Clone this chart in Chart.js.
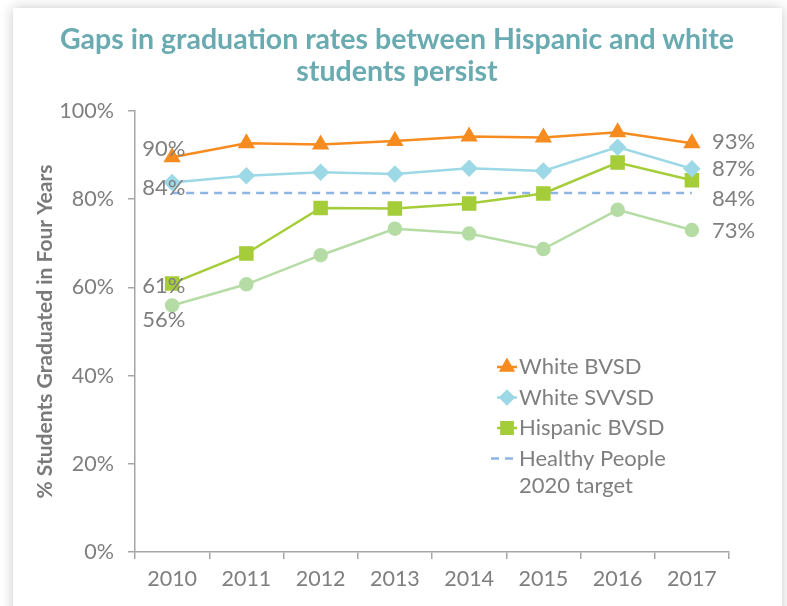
<!DOCTYPE html>
<html>
<head>
<meta charset="utf-8">
<script src="https://cdn.jsdelivr.net/npm/chart.js@4"></script>
<style>
  html, body { margin: 0; padding: 0; width: 787px; height: 606px; overflow: hidden; background: #fff; }
  .card { position: absolute; left: 13px; top: 8px; width: 769px; height: 640px; background: #fff; box-shadow: 0 0 12px rgba(0,0,0,0.22); }
  canvas { position: absolute; left: 0; top: 0; }
  .title { position: absolute; left: 0; top: 22px; width: 794px; margin: 0; text-align: center;
    font: bold 28.5px/32px Lato, "Open Sans", sans-serif; color: #69abb1; z-index: 2; }
</style>
</head>
<body>
<div class="card"></div>
<h1 class="title">Gaps in graduation rates between Hispanic and white<br>students persist</h1>
<canvas id="gradChart" width="787" height="606"></canvas>
<script>
const years = ['2010', '2011', '2012', '2013', '2014', '2015', '2016', '2017'];
const whiteBVSD = [89.5, 92.7, 92.4, 93.2, 94.2, 94.0, 95.2, 92.7];
const whiteSVVSD = [83.8, 85.3, 86.1, 85.7, 87.0, 86.4, 91.8, 86.9];
const hispanicBVSD = [60.9, 67.7, 78.0, 77.9, 79.0, 81.3, 88.3, 84.3];
const hispanicSVVSD = [55.9, 60.7, 67.3, 73.3, 72.2, 68.7, 77.6, 73.0];
const target2020 = [81.4, 81.4, 81.4, 81.4, 81.4, 81.4, 81.4, 81.4];
const yTicks = [0, 20, 40, 60, 80, 100];
const legendNames = [['White BVSD'], ['White SVVSD'], ['Hispanic BVSD'], ['Healthy People', '2020 target']];

const gray = '#7f7f7f';
const axisGray = '#a6a6a6';
const font = 'Lato, "Open Sans", sans-serif';

// end labels + legend drawn inside the plot area
const annotate = {
  id: 'annotate',
  afterDatasetsDraw(chart, args, opts) {
    const ctx = chart.ctx;
    const x = chart.scales.x;
    const y = chart.scales.y;
    ctx.save();
    ctx.font = '22px ' + font;
    ctx.fillStyle = gray;
    ctx.textBaseline = 'middle';
    ctx.textAlign = 'left';
    opts.labels.forEach(l => {
      const v = chart.data.datasets[l.ds].data[l.i];
      ctx.fillText(Math.round(v) + '%', x.getPixelForValue(l.i) + l.dx, y.getPixelForValue(v) + l.dy);
    });

    // legend
    const lx = chart.chartArea.left + 372;
    chart.data.datasets.forEach((ds, k) => {
      if (ds.legendRow === undefined) return;
      const ly = opts.legendTop + ds.legendRow * opts.legendStep;
      ctx.strokeStyle = ds.borderColor;
      ctx.fillStyle = ds.backgroundColor;
      ctx.lineWidth = ds.borderWidth;
      ctx.setLineDash(ds.borderDash || []);
      ctx.beginPath();
      if (ds.borderDash) {
        ctx.moveTo(lx - 16, ly); ctx.lineTo(lx + 8, ly);
      } else {
        ctx.moveTo(lx - 10, ly); ctx.lineTo(lx + 10, ly);
      }
      ctx.stroke();
      ctx.setLineDash([]);
      if (ds.pointStyle !== false) {
        Chart.helpers.drawPoint(ctx, { pointStyle: ds.pointStyle, radius: ds.pointRadius - 0.5, rotation: 0, borderWidth: 1 }, lx, ly);
      }
      ctx.fillStyle = gray;
      legendNames[ds.legendRow].forEach((t, j) => ctx.fillText(t, lx + 12, ly + j * 27));
    });
    ctx.restore();
  }
};

new Chart(document.getElementById('gradChart'), {
  type: 'line',
  data: {
    labels: years,
    datasets: [
      { label: 'White BVSD', data: whiteBVSD, borderColor: '#f68b1f', backgroundColor: '#f68b1f',
        borderWidth: 2.5, pointStyle: 'triangle', pointRadius: 7.5, legendRow: 0 },
      { label: 'White SVVSD', data: whiteSVVSD, borderColor: '#9dd8e6', backgroundColor: '#9dd8e6',
        borderWidth: 2.5, pointStyle: 'rectRot', pointRadius: 7, legendRow: 1 },
      { label: 'Hispanic BVSD', data: hispanicBVSD, borderColor: '#a5cd39', backgroundColor: '#a5cd39',
        borderWidth: 2.5, pointStyle: 'rect', pointRadius: 8.5, legendRow: 2 },
      { label: 'Healthy People 2020 target', data: target2020, borderColor: '#8eb4e3', backgroundColor: '#8eb4e3',
        borderWidth: 2.5, borderDash: [8, 6], pointStyle: false, pointRadius: 0, legendRow: 3 },
      { label: 'Hispanic SVVSD', data: hispanicSVVSD, borderColor: '#b5dca5', backgroundColor: '#b5dca5',
        borderWidth: 2.5, pointStyle: 'circle', pointRadius: 6 }
    ]
  },
  options: {
    responsive: false,
    animation: false,
    layout: { padding: { top: 111, left: 29, right: 58, bottom: 0 } },
    plugins: {
      legend: { display: false },
      tooltip: { enabled: false },
      title: { display: false },
      annotate: {
        legendTop: 367,
        legendStep: 30.5,
        labels: [
          { ds: 0, i: 0, dx: -30, dy: -8 },
          { ds: 1, i: 0, dx: -30, dy: 5 },
          { ds: 2, i: 0, dx: -30, dy: 2 },
          { ds: 4, i: 0, dx: -30, dy: 14 },
          { ds: 0, i: 7, dx: 20, dy: -1 },
          { ds: 1, i: 7, dx: 20, dy: 0 },
          { ds: 2, i: 7, dx: 20, dy: 19 },
          { ds: 4, i: 7, dx: 20, dy: 1 }
        ]
      }
    },
    scales: {
      x: {
        offset: true,
        grid: { offset: true, drawOnChartArea: false, tickLength: 7, color: axisGray, lineWidth: 1.5 },
        border: { color: axisGray, width: 1.5 },
        ticks: { color: gray, font: { family: font, size: 21.5 }, padding: 7, maxRotation: 0 },
        afterFit: s => { s.height = 54; }
      },
      y: {
        min: 0,
        max: 100,
        afterBuildTicks: s => { s.ticks = yTicks.map(v => ({ value: v })); },
        grid: { drawOnChartArea: false, tickLength: 7, color: axisGray, lineWidth: 1.5 },
        border: { color: axisGray, width: 1.5 },
        ticks: { color: gray, font: { family: font, size: 21.5 }, padding: 14, callback: v => v + '%' },
        title: { display: true, text: '% Students Graduated in Four Years', color: '#7a7a7a',
          font: { family: font, size: 21, weight: 'bold' } },
        afterFit: s => { s.width = 106; }
      }
    }
  },
  plugins: [annotate]
});
</script>
</body>
</html>
